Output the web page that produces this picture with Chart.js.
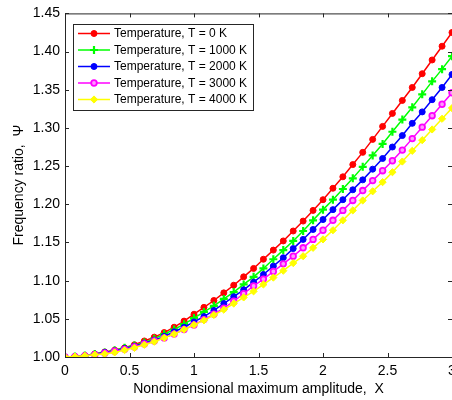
<!DOCTYPE html>
<html>
<head>
<meta charset="utf-8">
<script src="https://cdn.jsdelivr.net/npm/chart.js@4/dist/chart.umd.min.js"></script>
<style>
  html, body { margin: 0; padding: 0; background: #fff; overflow: hidden; }
  #wrap { width: 452px; height: 400px; }
</style>
</head>
<body>
<div id="wrap"><canvas id="chart" width="452" height="400"></canvas></div>
<script>
// nondimensional amplitude X (40 points, 0..3)
const amplitudeX = [0, 0.077, 0.154, 0.231, 0.308, 0.385, 0.462, 0.538, 0.615, 0.692,
  0.769, 0.846, 0.923, 1.0, 1.077, 1.154, 1.231, 1.308, 1.385, 1.462,
  1.538, 1.615, 1.692, 1.769, 1.846, 1.923, 2.0, 2.077, 2.154, 2.231,
  2.308, 2.385, 2.462, 2.538, 2.615, 2.692, 2.769, 2.846, 2.923, 3.0];

const seriesNames = ["Temperature, T = 0 K", "Temperature, T = 1000 K", "Temperature, T = 2000 K",
  "Temperature, T = 3000 K", "Temperature, T = 4000 K"];

const psiT0 = [1.000, 1.0005, 1.002, 1.004, 1.0065, 1.009, 1.012, 1.016, 1.021, 1.026,
  1.032, 1.039, 1.047, 1.056, 1.065, 1.074, 1.084, 1.094, 1.105, 1.116,
  1.128, 1.140, 1.152, 1.165, 1.178, 1.192, 1.206, 1.221, 1.236, 1.252,
  1.268, 1.285, 1.302, 1.319, 1.336, 1.353, 1.371, 1.389, 1.407, 1.425];
const psiT1000 = [1.000, 1.0005, 1.002, 1.004, 1.006, 1.009, 1.012, 1.015, 1.019, 1.024,
  1.030, 1.036, 1.043, 1.051, 1.059, 1.067, 1.076, 1.085, 1.095, 1.105,
  1.116, 1.128, 1.140, 1.152, 1.165, 1.179, 1.193, 1.206, 1.220, 1.234,
  1.249, 1.264, 1.279, 1.295, 1.311, 1.327, 1.344, 1.361, 1.377, 1.394];
const psiT2000 = [1.000, 1.0005, 1.0015, 1.0035, 1.006, 1.008, 1.011, 1.014, 1.018, 1.022,
  1.027, 1.033, 1.039, 1.046, 1.053, 1.061, 1.070, 1.079, 1.088, 1.098,
  1.108, 1.119, 1.130, 1.142, 1.154, 1.167, 1.180, 1.193, 1.206, 1.219,
  1.232, 1.246, 1.260, 1.275, 1.290, 1.306, 1.321, 1.337, 1.353, 1.370];
const psiT3000 = [1.000, 1.0005, 1.0015, 1.003, 1.005, 1.0075, 1.010, 1.013, 1.017, 1.021,
  1.025, 1.030, 1.036, 1.042, 1.049, 1.056, 1.064, 1.073, 1.083, 1.093,
  1.102, 1.112, 1.122, 1.132, 1.143, 1.154, 1.166, 1.179, 1.192, 1.205,
  1.218, 1.231, 1.244, 1.257, 1.271, 1.286, 1.301, 1.316, 1.331, 1.346];
const psiT4000 = [1.000, 1.0005, 1.0015, 1.003, 1.004, 1.006, 1.009, 1.012, 1.016, 1.020,
  1.025, 1.030, 1.036, 1.042, 1.048, 1.055, 1.062, 1.070, 1.078, 1.086,
  1.095, 1.104, 1.113, 1.123, 1.132, 1.143, 1.154, 1.166, 1.179, 1.192,
  1.205, 1.217, 1.229, 1.242, 1.256, 1.270, 1.284, 1.298, 1.312, 1.326];

const FONT = "'Liberation Sans', Arial, Helvetica, sans-serif";

function pts(ys) {
  return amplitudeX.map((x, i) => ({x: x, y: ys[i]}));
}

function makeSet(label, ys, color, style, fill, radius, bw, order) {
  return {
    label: label,
    data: pts(ys),
    borderColor: color,
    backgroundColor: fill,
    borderWidth: 1.5,
    pointStyle: style,
    pointRadius: radius,
    pointBorderWidth: bw,
    pointBorderColor: color,
    pointBackgroundColor: fill,
    tension: 0,
    order: order
  };
}

const datasets = [
  makeSet(seriesNames[0], psiT0, '#ff0000', 'circle', '#ff0000', 3, 1, 5),
  makeSet(seriesNames[1], psiT1000, '#00ff00', 'cross', '#00ff00', 4, 2.2, 4),
  makeSet(seriesNames[2], psiT2000, '#0000ff', 'circle', '#0000ff', 3, 1, 3),
  makeSet(seriesNames[3], psiT3000, '#ff00ff', 'circle', '#ff99ff', 2.8, 1.8, 2),
  makeSet(seriesNames[4], psiT4000, '#ffff00', 'rectRot', '#ffff00', 3.6, 1, 1)
];

// frame, inward ticks and the boxed legend inside the plot
const framePlugin = {
  id: 'frame',
  afterDraw(chart) {
    const ctx = chart.ctx;
    const a = chart.chartArea;
    const xs = chart.scales.x, ys = chart.scales.y;
    ctx.save();
    ctx.strokeStyle = '#262626';
    ctx.lineWidth = 1;
    ctx.strokeRect(a.left + 0.5, a.top + 0.5, a.right - a.left, a.bottom - a.top);
    ctx.beginPath();
    xs.ticks.forEach(t => {
      const px = Math.round(xs.getPixelForValue(t.value)) + 0.5;
      ctx.moveTo(px, a.bottom); ctx.lineTo(px, a.bottom - 4);
      ctx.moveTo(px, a.top); ctx.lineTo(px, a.top + 4);
    });
    ys.ticks.forEach(t => {
      const py = Math.round(ys.getPixelForValue(t.value)) + 0.5;
      ctx.moveTo(a.left, py); ctx.lineTo(a.left + 4, py);
      ctx.moveTo(a.right, py); ctx.lineTo(a.right - 4, py);
    });
    ctx.stroke();

    // legend box
    const bx = 73, by = 24, bw = 180, bh = 86;
    ctx.fillStyle = '#fff';
    ctx.fillRect(bx, by, bw, bh);
    ctx.strokeStyle = '#262626';
    ctx.strokeRect(bx + 0.5, by + 0.5, bw, bh);
    ctx.font = '12px ' + FONT;
    ctx.textBaseline = 'middle';
    ctx.textAlign = 'left';
    const rowY = [33.5, 50, 66.5, 83, 99.5];
    chart.data.datasets.forEach((ds, i) => {
      const y = rowY[i];
      ctx.strokeStyle = ds.borderColor;
      ctx.lineWidth = ds.borderWidth;
      ctx.beginPath();
      ctx.moveTo(78, y); ctx.lineTo(110, y);
      ctx.stroke();
      ctx.fillStyle = ds.pointBackgroundColor;
      ctx.strokeStyle = ds.pointBorderColor;
      ctx.lineWidth = ds.pointBorderWidth;
      if (Chart.helpers && Chart.helpers.drawPoint) {
        Chart.helpers.drawPoint(ctx, {pointStyle: ds.pointStyle, radius: ds.pointRadius,
          borderWidth: ds.pointBorderWidth, rotation: 0}, 94, y);
      } else {
        ctx.beginPath(); ctx.arc(94, y, ds.pointRadius, 0, Math.PI * 2); ctx.fill(); ctx.stroke();
      }
      ctx.fillStyle = '#000';
      ctx.fillText(ds.label, 114, y + 0.5);
    });
    ctx.restore();
  }
};

new Chart(document.getElementById('chart'), {
  type: 'line',
  data: { datasets: datasets },
  options: {
    responsive: false,
    animation: false,
    // no automatic padding: the plot runs to the right edge like the original
    layout: { autoPadding: false, padding: { top: 13, right: 0, left: 0, bottom: 0 } },
    plugins: {
      legend: { display: false },
      tooltip: { enabled: false }
    },
    scales: {
      x: {
        type: 'linear',
        min: 0, max: 3,
        grid: { display: false, drawTicks: false },
        border: { display: false },
        ticks: { stepSize: 0.5, color: '#000', padding: 6, maxRotation: 0,
          font: { family: FONT, size: 14 },
          callback: v => String(Math.round(v * 10) / 10) },
        title: { display: true, text: 'Nondimensional maximum amplitude,  X', color: '#000',
          padding: { top: 0, bottom: 2 }, font: { family: FONT, size: 14 } },
        afterFit(scale) { scale.height = 43; scale.paddingRight = 0; }
      },
      y: {
        type: 'linear',
        min: 1, max: 1.45,
        grid: { display: false, drawTicks: false },
        border: { display: false },
        ticks: { stepSize: 0.05, color: '#000', padding: 5,
          font: { family: FONT, size: 14 },
          callback: v => v.toFixed(2) },
        title: { display: true, text: 'Frequency ratio,  Ψ', color: '#000',
          padding: { top: 11, bottom: 0 }, font: { family: FONT, size: 14 } },
        afterFit(scale) { scale.width = 65; }
      }
    }
  },
  plugins: [framePlugin]
});
</script>
</body>
</html>
